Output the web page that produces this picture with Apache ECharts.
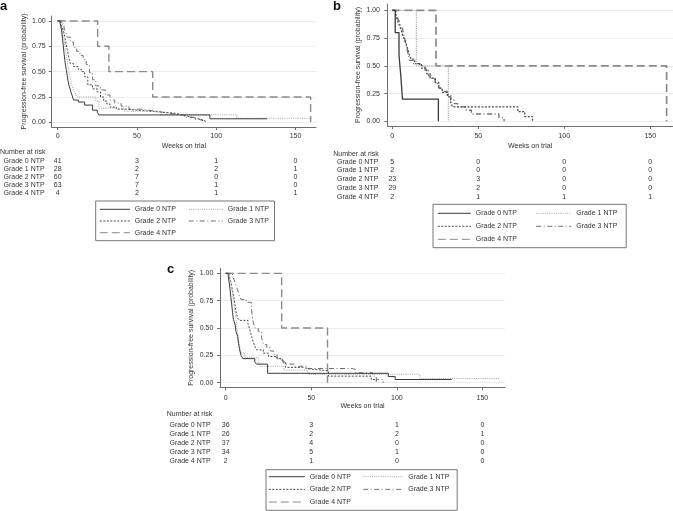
<!DOCTYPE html>
<html><head><meta charset="utf-8">
<script src="https://cdn.jsdelivr.net/npm/echarts@6/dist/echarts.min.js"></script>
<style>html,body{margin:0;padding:0;background:#fff}#c{width:673px;height:511px}</style>
</head><body><div id="c"></div>
<script>
const grades = ['Grade 0 NTP','Grade 1 NTP','Grade 2 NTP','Grade 3 NTP','Grade 4 NTP'];
const weekTicks = [0, 50, 100, 150];
const probTicks = [0, 0.25, 0.5, 0.75, 1];
const panelLetters = ['a', 'b', 'c'];
const xTitle = 'Weeks on trial';
const yTitle = 'Progression-free survival (probability)';
const riskTitle = 'Number at risk';

// Panel a: Kaplan-Meier steps [week, survival]
const a_g0 = [[0,1],[1.5,0.976],[2,0.95],[2.5,0.9],[3,0.83],[3.5,0.76],[4,0.68],[4.5,0.61],[5,0.56],[5.5,0.51],[6,0.46],[6.5,0.41],[7,0.37],[8,0.32],[8.5,0.29],[9,0.27],[10,0.22],[13,0.2],[17,0.17],[22,0.12],[25,0.098],[26,0.073],[96,0.035],[132,0.035]];
const a_g1 = [[0,1],[2,0.96],[3,0.89],[4,0.82],[5,0.71],[6,0.61],[7,0.5],[8,0.43],[9,0.36],[10,0.32],[11,0.29],[12,0.25],[24,0.21],[26,0.14],[42,0.11],[65,0.075],[113,0.04],[160,0.04]];
const a_g2 = [[0,1],[2,0.97],[3,0.93],[4,0.88],[5,0.8],[6,0.72],[7,0.64],[8,0.58],[10,0.55],[13,0.52],[15,0.5],[17,0.45],[19,0.37],[22,0.33],[25,0.3],[27,0.25],[29,0.21],[31,0.18],[33,0.15],[37,0.13],[44,0.12],[50,0.11],[58,0.1],[66,0.09],[74,0.075],[78,0.06],[82,0.045],[86,0.03],[90,0.015],[93,0]];
const a_g3 = [[0,1],[2,0.97],[4,0.93],[5,0.89],[6,0.84],[8,0.79],[10,0.74],[12,0.7],[14,0.66],[16,0.62],[18,0.57],[20,0.49],[22,0.42],[24,0.36],[27,0.32],[30,0.27],[33,0.22],[36,0.19],[40,0.16],[45,0.13],[52,0.115],[60,0.1],[66,0.085],[72,0.07],[80,0.05],[86,0.03],[89,0.015],[92,0]];
const a_g4 = [[0,1],[25.2,0.75],[32.3,0.5],[59.9,0.25],[159.5,0]];
const riskA = [[41,3,1,0],[28,2,2,1],[60,7,0,0],[63,7,1,0],[4,2,1,1]];

// Panel b
const b_g0 = [[0,1],[1.7,0.8],[3.9,0.6],[5,0.4],[5.9,0.2],[26.8,0]];
const b_g1 = [[0,1],[14,0.5],[32.6,0]];
const b_g2 = [[0,1],[2,0.957],[3,0.913],[4,0.87],[5,0.83],[6,0.78],[7,0.74],[8,0.7],[9,0.65],[10,0.6],[11,0.56],[13,0.52],[17,0.48],[20,0.43],[22,0.39],[25,0.35],[27,0.3],[29,0.26],[32,0.22],[34,0.17],[35,0.13],[73,0.087],[77,0.043],[81.5,0]];
const b_g3 = [[0,1],[2,0.966],[3,0.93],[4,0.9],[5,0.86],[6,0.83],[7,0.76],[8,0.69],[9,0.62],[10,0.55],[12,0.52],[16,0.5],[19,0.46],[21,0.41],[23,0.38],[25,0.34],[27,0.3],[29,0.27],[32,0.24],[34,0.19],[36,0.16],[38,0.13],[43,0.1],[46,0.066],[62,0.033],[65,0]];
const b_g4 = [[0,1],[25.4,0.5],[159.5,0]];
const riskB = [[5,0,0,0],[2,0,0,0],[23,3,0,0],[29,2,0,0],[2,1,1,1]];

// Panel c
const c_g0 = [[0,1],[1.5,0.97],[2,0.92],[2.5,0.86],[3,0.78],[3.5,0.72],[4,0.64],[4.5,0.58],[5.5,0.53],[6,0.47],[7,0.42],[7.5,0.36],[8,0.31],[9,0.25],[10,0.22],[17,0.19],[18,0.17],[24.5,0.086],[95,0.057],[99,0.029],[132,0.029]];
const c_g1 = [[0,1],[2,0.96],[3,0.92],[4,0.81],[5,0.69],[6,0.58],[7,0.46],[8,0.35],[9,0.27],[11,0.23],[19,0.19],[20,0.15],[34,0.115],[48,0.077],[113.5,0.039],[160,0.039]];
const c_g2 = [[0,1],[2,0.97],[3,0.92],[4,0.84],[5,0.76],[6,0.65],[7,0.59],[8,0.57],[13,0.54],[14,0.49],[15,0.43],[16,0.38],[17,0.33],[18,0.3],[22,0.27],[25,0.24],[30,0.22],[33,0.19],[35,0.14],[45,0.125],[49,0.11],[60,0.06],[85,0.03],[88,0]];
const c_g3 = [[0,1],[4,0.97],[5,0.94],[6,0.88],[7,0.85],[8,0.79],[9,0.76],[12,0.735],[15,0.68],[16,0.56],[17,0.5],[19,0.47],[21,0.41],[22,0.35],[24,0.32],[26,0.29],[28,0.26],[30,0.22],[32,0.2],[34,0.17],[40,0.15],[48,0.13],[74,0.12],[76,0.09],[86,0.06],[88,0.03],[92,0]];
const c_g4 = [[0,1],[32.7,0.5],[59.5,0]];
const riskC = [[36,3,1,0],[26,2,2,1],[37,4,0,0],[34,5,1,0],[2,1,0,0]];

const curves = [[a_g0,a_g1,a_g2,a_g3,a_g4],[b_g0,b_g1,b_g2,b_g3,b_g4],[c_g0,c_g1,c_g2,c_g3,c_g4]];
const risks = [riskA, riskB, riskC];

const FONT = 'Liberation Sans, Arial, sans-serif';
const TXT = '#333';
const AX = '#6e6e6e';
const lineStyles = [
  {color:'#3a3a3a', width:1, type:'solid'},
  {color:'#a5a5a5', width:1, type:[1,1.2]},
  {color:'#4a4a4a', width:1, type:[2,1.5]},
  {color:'#707070', width:1, type:[5,2.5,1,2.5]},
  {color:'#8a8a8a', width:1.4, type:[8,4]}
];

const layout = [
  {grid:{left:51.7, top:16, width:264.3, height:111}, xr:[-3.78,162.9], yr:[-0.046,1.049], yMargin:6, xMargin:6, xNameGap:15.5, yNameGap:24,
   rowOff:[34.3,42,49.7,57.7,65.7], rowGap:7, nar:{left:0, top:149}, letter:{left:0, top:0},
   leg:{box:[95.7,201,274,240.7], rowC:[209.3,221,232.7], c1:99.3, c2:188.3, iw:30, iw2:34}},
  {grid:{left:387.3, top:4, width:285.7, height:122}, xr:[-2.9,163.2], yr:[-0.042,1.057], yMargin:7.3, xMargin:6.5, xNameGap:16.5, yNameGap:25.3,
   rowOff:[35.7,44,53,61.7,70.7], rowGap:9, nar:{left:333.3, top:150.5}, letter:{left:333, top:0},
   leg:{box:[433,204.3,625.7,247.7], rowC:[213.3,226,239.3], c1:437.3, c2:535.7, iw:33, iw2:35}},
  {grid:{left:220, top:268.3, width:285, height:119}, xr:[-3.33,163.2], yr:[-0.042,1.046], yMargin:6.7, xMargin:7.5, xNameGap:14.5, yNameGap:25,
   rowOff:[37.7,46.4,55.4,64.4,73.4], rowGap:9.3, nar:{left:166.7, top:411}, letter:{left:167, top:263},
   leg:{box:[266,469.7,456.7,510.3], rowC:[476.7,489.3,502], c1:268.3, c2:362.7, iw:36, iw2:40}}
];

const txt = (size, extra) => Object.assign({fontSize:size, color:TXT, fontFamily:FONT, fontWeight:'normal'}, extra||{});

const option = {animation:false, backgroundColor:'#fff', grid:[], xAxis:[], yAxis:[], series:[], title:[], legend:[]};

layout.forEach((P, p) => {
  option.grid.push(Object.assign({containLabel:false}, P.grid));
  const mainX = option.xAxis.length;
  option.xAxis.push({
    type:'value', gridIndex:p, position:'bottom', min:P.xr[0], max:P.xr[1],
    name:xTitle, nameLocation:'middle', nameGap:P.xNameGap, nameTextStyle:txt(7),
    axisLine:{show:true, onZero:false, lineStyle:{color:AX, width:1}},
    axisTick:{show:true, length:3, customValues:weekTicks, lineStyle:{color:AX}},
    axisLabel:{customValues:weekTicks, margin:P.xMargin, ...txt(7)},
    splitLine:{show:false}
  });
  // risk rows, one axis per grade, numbers placed at the week ticks
  risks[p].forEach((row, r) => {
    option.xAxis.push({
      type:'value', gridIndex:p, position:'bottom', offset:P.rowOff[r], min:P.xr[0], max:P.xr[1],
      name:grades[r], nameLocation:'start', nameGap:P.rowGap, nameTextStyle:txt(7),
      axisLine:{show:false, onZero:false}, axisTick:{show:false}, splitLine:{show:false},
      axisLabel:{customValues:weekTicks, margin:0, verticalAlign:'middle', ...txt(7),
        formatter:(v) => String(row[weekTicks.indexOf(v)])}
    });
  });
  option.yAxis.push({
    type:'value', gridIndex:p, position:'left', min:P.yr[0], max:P.yr[1],
    name:yTitle, nameLocation:'middle', nameGap:P.yNameGap, nameTextStyle:txt(7),
    axisLine:{show:true, onZero:false, lineStyle:{color:AX, width:1}},
    axisTick:{show:true, length:3, customValues:probTicks, lineStyle:{color:AX}},
    axisLabel:{customValues:probTicks, margin:P.yMargin, formatter:(v)=>v.toFixed(2), ...txt(7)},
    splitLine:{show:true, lineStyle:{color:'#ececec', width:1}}
  });
  curves[p].forEach((d, g) => {
    option.series.push({
      type:'line', name:grades[g], xAxisIndex:mainX, yAxisIndex:p, data:d, step:'end',
      symbol:'none', silent:true, color:lineStyles[g].color,
      itemStyle:{color:lineStyles[g].color},
      lineStyle:Object.assign({}, lineStyles[g], p===1?{width:lineStyles[g].width+0.3}:{}),
      z: 5 - g
    });
  });
  option.title.push({text:panelLetters[p], left:P.letter.left, top:P.letter.top, padding:0,
    textStyle:txt(13, {fontWeight:'bold', color:'#111'})});
  option.title.push({text:riskTitle, left:P.nar.left, top:P.nar.top, padding:0, textStyle:txt(7)});

  const Lg = P.leg, ih = 7, tw = 45;
  const pitch = (Lg.rowC[2] - Lg.rowC[0]) / 2, gap = pitch - ih;
  const rowTop = Lg.rowC[0] - ih/2;
  const padT = rowTop - Lg.box[1];
  const padB = Lg.box[3] - (Lg.rowC[2] + ih/2);
  const padL = Lg.c1 - Lg.box[0];
  const padR = (Lg.box[2] - Lg.box[0]) - padL - (Lg.iw + 5 + tw);
  const common = {orient:'vertical', itemGap:gap, itemHeight:ih, selectedMode:false,
    itemStyle:{opacity:0, borderWidth:0},
    lineStyle:{width:1},
    textStyle:txt(7, {lineHeight:ih, width:tw})};
  option.legend.push(Object.assign({}, common, {left:Lg.box[0], top:Lg.box[1], itemWidth:Lg.iw,
    padding:[padT, padR, padB, padL], borderColor:'#777', borderWidth:1,
    data:[grades[0], grades[2], grades[4]]}));
  option.legend.push(Object.assign({}, common, {left:Lg.c2, top:rowTop, itemWidth:Lg.iw2, padding:0,
    data:[grades[1], grades[3]]}));
});

const chart = echarts.init(document.getElementById('c'), null, {renderer:'canvas'});
chart.setOption(option);
</script></body></html>
